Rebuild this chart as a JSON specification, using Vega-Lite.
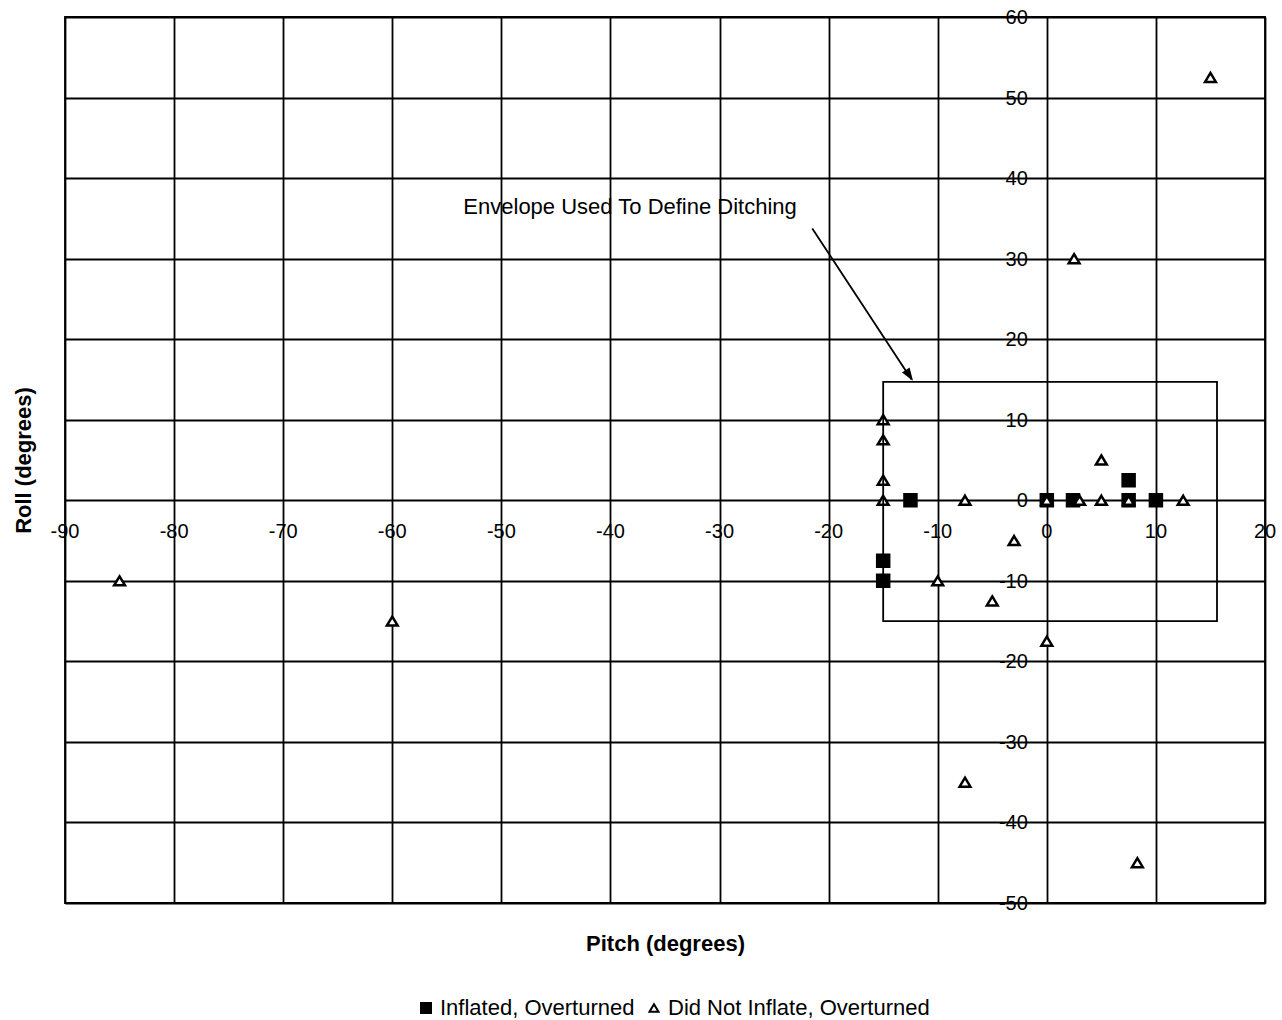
{
  "$schema": "https://vega.github.io/schema/vega-lite/v6.json",
  "width": 1200,
  "height": 886,
  "autosize": {"type": "none"},
  "padding": {"left": 65, "top": 17, "right": 17, "bottom": 117},
  "background": "white",
  "config": {
    "font": "Liberation Sans",
    "view": {"stroke": "black", "strokeWidth": 1.8},
    "text": {"font": "Liberation Sans", "color": "black"},
    "axis": {
      "grid": true, "gridColor": "black", "gridOpacity": 1, "gridWidth": 1.8,
      "labels": false, "ticks": false, "domain": false,
      "titleFont": "Liberation Sans", "titleFontSize": 22, "titleFontWeight": "bold",
      "titleColor": "black", "titlePadding": 30
    },
    "legend": {
      "labelFont": "Liberation Sans", "labelFontSize": 22, "labelColor": "black", "labelOffset": 3,
      "labelLimit": 0, "columnPadding": 8, "padding": 0
    }
  },
  "datasets": {
    "points": [
      {"pitch": -12.5, "roll": 0, "status": "Inflated, Overturned"},
      {"pitch": -15, "roll": -7.5, "status": "Inflated, Overturned"},
      {"pitch": -15, "roll": -10, "status": "Inflated, Overturned"},
      {"pitch": 0, "roll": 0, "status": "Inflated, Overturned"},
      {"pitch": 2.4, "roll": 0, "status": "Inflated, Overturned"},
      {"pitch": 7.5, "roll": 2.5, "status": "Inflated, Overturned"},
      {"pitch": 7.5, "roll": 0, "status": "Inflated, Overturned"},
      {"pitch": 10, "roll": 0, "status": "Inflated, Overturned"},
      {"pitch": -85, "roll": -10, "status": "Did Not Inflate, Overturned"},
      {"pitch": -60, "roll": -15, "status": "Did Not Inflate, Overturned"},
      {"pitch": 15, "roll": 52.5, "status": "Did Not Inflate, Overturned"},
      {"pitch": 2.5, "roll": 30, "status": "Did Not Inflate, Overturned"},
      {"pitch": -15, "roll": 10, "status": "Did Not Inflate, Overturned"},
      {"pitch": -15, "roll": 7.5, "status": "Did Not Inflate, Overturned"},
      {"pitch": -15, "roll": 2.5, "status": "Did Not Inflate, Overturned"},
      {"pitch": -15, "roll": 0, "status": "Did Not Inflate, Overturned"},
      {"pitch": -7.5, "roll": 0, "status": "Did Not Inflate, Overturned"},
      {"pitch": -10, "roll": -10, "status": "Did Not Inflate, Overturned"},
      {"pitch": -3, "roll": -5, "status": "Did Not Inflate, Overturned"},
      {"pitch": -5, "roll": -12.5, "status": "Did Not Inflate, Overturned"},
      {"pitch": 0, "roll": -17.5, "status": "Did Not Inflate, Overturned"},
      {"pitch": -7.5, "roll": -35, "status": "Did Not Inflate, Overturned"},
      {"pitch": 8.3, "roll": -45, "status": "Did Not Inflate, Overturned"},
      {"pitch": 5, "roll": 5, "status": "Did Not Inflate, Overturned"},
      {"pitch": 0, "roll": 0, "status": "Did Not Inflate, Overturned"},
      {"pitch": 3, "roll": 0, "status": "Did Not Inflate, Overturned"},
      {"pitch": 5, "roll": 0, "status": "Did Not Inflate, Overturned"},
      {"pitch": 7.5, "roll": 0, "status": "Did Not Inflate, Overturned"},
      {"pitch": 12.5, "roll": 0, "status": "Did Not Inflate, Overturned"}
    ],
    "xticks": [
      {"v": -90, "label": "-90"}, {"v": -80, "label": "-80"}, {"v": -70, "label": "-70"},
      {"v": -60, "label": "-60"}, {"v": -50, "label": "-50"}, {"v": -40, "label": "-40"},
      {"v": -30, "label": "-30"}, {"v": -20, "label": "-20"}, {"v": -10, "label": "-10"},
      {"v": 0, "label": "0"}, {"v": 10, "label": "10"}, {"v": 20, "label": "20"}
    ],
    "yticks": [
      {"v": 60, "label": "60"}, {"v": 50, "label": "50"}, {"v": 40, "label": "40"},
      {"v": 30, "label": "30"}, {"v": 20, "label": "20"}, {"v": 10, "label": "10"},
      {"v": 0, "label": "0"}, {"v": -10, "label": "-10"}, {"v": -20, "label": "-20"},
      {"v": -30, "label": "-30"}, {"v": -40, "label": "-40"}, {"v": -50, "label": "-50"}
    ]
  },
  "layer": [
    {
      "data": {"name": "points"},
      "mark": {"type": "point", "size": 144, "strokeWidth": 2.5, "opacity": 1, "fillOpacity": 1, "strokeOpacity": 1},
      "encoding": {
        "x": {
          "field": "pitch", "type": "quantitative",
          "scale": {"domain": [-90, 20], "nice": false, "zero": false},
          "axis": {"title": "Pitch (degrees)", "values": [-90, -80, -70, -60, -50, -40, -30, -20, -10, 0, 10, 20]}
        },
        "y": {
          "field": "roll", "type": "quantitative",
          "scale": {"domain": [-50, 60], "nice": false, "zero": false},
          "axis": {"title": "Roll (degrees)", "values": [-50, -40, -30, -20, -10, 0, 10, 20, 30, 40, 50, 60]}
        },
        "shape": {
          "field": "status", "type": "nominal",
          "scale": {"domain": ["Inflated, Overturned", "Did Not Inflate, Overturned"], "range": ["square", "M0,-0.75L0.9,0.75L-0.9,0.75Z"]},
          "legend": {
            "title": null, "orient": "none", "legendX": 350, "legendY": 980, "direction": "horizontal",
            "symbolSize": 100, "symbolStrokeWidth": 2
          }
        },
        "fill": {
          "field": "status", "type": "nominal",
          "scale": {"domain": ["Inflated, Overturned", "Did Not Inflate, Overturned"], "range": ["black", "white"]},
          "legend": {
            "title": null, "orient": "none", "legendX": 350, "legendY": 980, "direction": "horizontal",
            "symbolSize": 100, "symbolStrokeWidth": 2
          }
        },
        "stroke": {
          "field": "status", "type": "nominal",
          "scale": {"domain": ["Inflated, Overturned", "Did Not Inflate, Overturned"], "range": ["black", "black"]},
          "legend": {
            "title": null, "orient": "none", "legendX": 350, "legendY": 980, "direction": "horizontal",
            "symbolSize": 100, "symbolStrokeWidth": 2
          }
        }
      }
    },
    {
      "data": {"name": "xticks"},
      "mark": {"type": "text", "dy": 32, "fontSize": 20, "align": "center", "baseline": "middle", "color": "black"},
      "encoding": {
        "x": {"field": "v", "type": "quantitative"},
        "y": {"datum": 0, "type": "quantitative"},
        "text": {"field": "label", "type": "nominal"}
      }
    },
    {
      "data": {"name": "yticks"},
      "mark": {"type": "text", "dx": -19, "dy": 1, "fontSize": 20, "align": "right", "baseline": "middle", "color": "black"},
      "encoding": {
        "x": {"datum": 0, "type": "quantitative"},
        "y": {"field": "v", "type": "quantitative"},
        "text": {"field": "label", "type": "nominal"}
      }
    },
    {
      "data": {"values": [{}]},
      "mark": {"type": "rect", "fill": null, "stroke": "black", "strokeWidth": 1.8},
      "encoding": {
        "x": {"datum": -15, "type": "quantitative"},
        "x2": {"datum": 15.6},
        "y": {"datum": -15, "type": "quantitative"},
        "y2": {"datum": 14.7}
      }
    },
    {
      "data": {"values": [{}]},
      "mark": {"type": "rule", "stroke": "black", "strokeWidth": 1.8},
      "encoding": {
        "x": {"datum": -21.5, "type": "quantitative"},
        "y": {"datum": 33.75, "type": "quantitative"},
        "x2": {"datum": -12.4},
        "y2": {"datum": 15.0}
      }
    },
    {
      "data": {"values": [{}]},
      "mark": {"type": "point", "shape": "M0,-1L0.7,1L-0.7,1Z", "size": 169, "angle": 146.6, "filled": true, "fill": "black", "strokeWidth": 0, "opacity": 1},
      "encoding": {
        "x": {"datum": -12.6, "type": "quantitative"},
        "y": {"datum": 15.5, "type": "quantitative"}
      }
    },
    {
      "data": {"values": [{}]},
      "mark": {"type": "text", "text": "Envelope Used To Define Ditching", "fontSize": 22, "align": "center", "baseline": "middle", "color": "black"},
      "encoding": {
        "x": {"datum": -38.2, "type": "quantitative"},
        "y": {"datum": 36.4, "type": "quantitative"}
      }
    }
  ]
}
